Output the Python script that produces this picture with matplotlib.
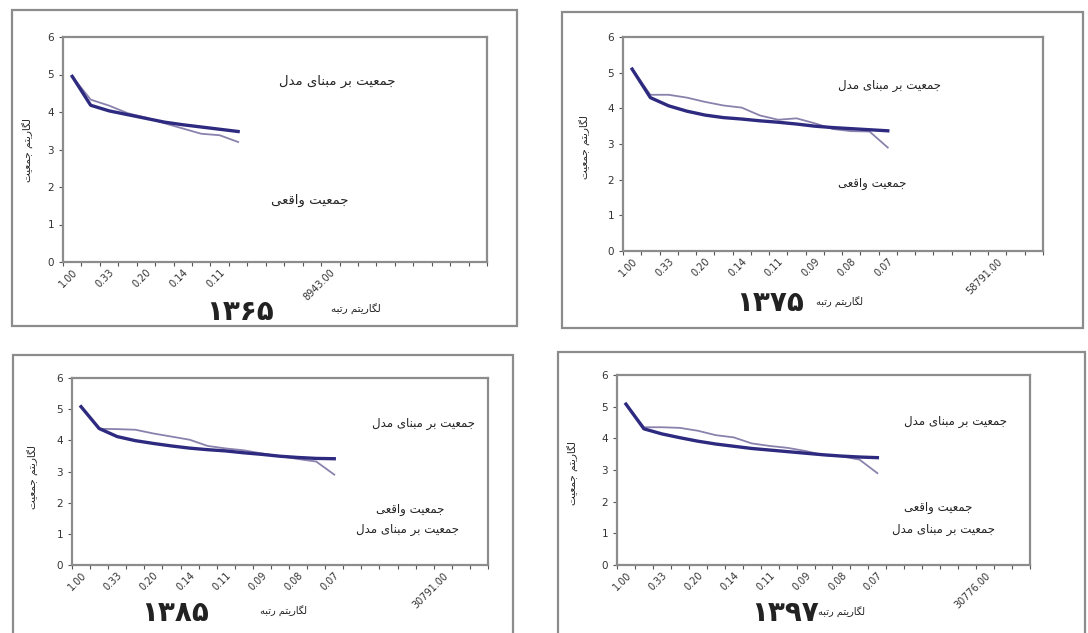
import matplotlib.pyplot as plt
from matplotlib.patches import Rectangle
import matplotlib.ticker as mticker

# ---- data (log population vs rank category) ----
years = ['۱۳۶۵', '۱۳۷۵', '۱۳۸۵', '۱۳۹۷']

model_1365 = [4.95, 4.18, 4.03, 3.93, 3.83, 3.73, 3.66, 3.60, 3.54, 3.48]
actual_1365 = [4.95, 4.33, 4.17, 3.97, 3.85, 3.70, 3.56, 3.42, 3.38, 3.20]

model_1375 = [5.10, 4.30, 4.07, 3.92, 3.81, 3.74, 3.70, 3.65, 3.61, 3.56, 3.50, 3.46, 3.43, 3.40, 3.37]
actual_1375 = [5.10, 4.38, 4.38, 4.30, 4.18, 4.08, 4.02, 3.80, 3.68, 3.72, 3.58, 3.42, 3.36, 3.35, 2.90]

model_1385 = [5.08, 4.38, 4.12, 3.99, 3.90, 3.82, 3.75, 3.70, 3.66, 3.60, 3.55, 3.49, 3.45, 3.42, 3.41]
actual_1385 = [5.08, 4.37, 4.36, 4.34, 4.22, 4.12, 4.02, 3.82, 3.74, 3.68, 3.58, 3.49, 3.40, 3.32, 2.90]

model_1397 = [5.08, 4.30, 4.14, 4.02, 3.91, 3.82, 3.75, 3.68, 3.63, 3.58, 3.53, 3.48, 3.44, 3.41, 3.39]
actual_1397 = [5.08, 4.35, 4.35, 4.33, 4.24, 4.10, 4.03, 3.84, 3.76, 3.70, 3.60, 3.47, 3.43, 3.33, 2.90]

n_cats = 23
labels_1365 = {0: '1.00', 2: '0.33', 4: '0.20', 6: '0.14', 8: '0.11', 14: '8943.00'}
labels_long = {0: '1.00', 2: '0.33', 4: '0.20', 6: '0.14', 8: '0.11',
               10: '0.09', 12: '0.08', 14: '0.07'}
far_labels = ['58791.00', '30791.00', '30776.00']

txt_model = 'جمعیت بر مبنای مدل'
txt_actual = 'جمعیت واقعی'
txt_ylabel = 'لگاریتم جمعیت'
txt_xlabel = 'لگاریتم رتبه'

# ---- minimal Persian shaping (matplotlib has no text shaping) ----
FORMS = {  # isolated, final, initial, medial
    'ا': ('\uFE8D', '\uFE8E', None, None),
    'ب': ('\uFE8F', '\uFE90', '\uFE91', '\uFE92'),
    'ت': ('\uFE95', '\uFE96', '\uFE97', '\uFE98'),
    'ج': ('\uFE9D', '\uFE9E', '\uFE9F', '\uFEA0'),
    'د': ('\uFEA9', '\uFEAA', None, None),
    'ر': ('\uFEAD', '\uFEAE', None, None),
    'ع': ('\uFEC9', '\uFECA', '\uFECB', '\uFECC'),
    'ق': ('\uFED5', '\uFED6', '\uFED7', '\uFED8'),
    'ل': ('\uFEDD', '\uFEDE', '\uFEDF', '\uFEE0'),
    'م': ('\uFEE1', '\uFEE2', '\uFEE3', '\uFEE4'),
    'ن': ('\uFEE5', '\uFEE6', '\uFEE7', '\uFEE8'),
    'ه': ('\uFEE9', '\uFEEA', '\uFEEB', '\uFEEC'),
    'و': ('\uFEED', '\uFEEE', None, None),
    'ی': ('\uFBFC', '\uFBFD', '\uFBFE', '\uFBFF'),
    'گ': ('\uFB92', '\uFB93', '\uFB94', '\uFB95'),
}


def shape(s):
    out = []
    for i, ch in enumerate(s):
        if ch not in FORMS:
            out.append(ch)
            continue
        prev = s[i - 1] if i > 0 else ''
        nxt = s[i + 1] if i + 1 < len(s) else ''
        join_prev = prev in FORMS and FORMS[prev][2] is not None
        join_next = nxt in FORMS and FORMS[ch][2] is not None
        iso, fin, ini, med = FORMS[ch]
        if join_prev and join_next:
            out.append(med)
        elif join_prev:
            out.append(fin)
        elif join_next:
            out.append(ini)
        else:
            out.append(iso)
    return ''.join(out)[::-1]


plt.rcParams['font.family'] = ['DejaVu Sans']

W, H = 1088, 633
fig = plt.figure(figsize=(W / 100, H / 100), dpi=100)


def fx(x):
    return x / W


def fy(y):
    return 1 - y / H


def frame(x0, y0, x1, y1):
    fig.add_artist(Rectangle((fx(x0), fy(y1)), fx(x1 - x0), (y1 - y0) / H,
                             transform=fig.transFigure, fill=False,
                             edgecolor='#8c8c8c', linewidth=1.6))


def panel(box, model, actual, labels, far_pos, far_label):
    x0, y0, x1, y1 = box
    ax = fig.add_axes([fx(x0), fy(y1), fx(x1 - x0), (y1 - y0) / H])
    xs = [k + 0.5 for k in range(len(model))]
    ax.plot(xs, actual, color='#8a82ad', linewidth=1.3)
    ax.plot(xs, model, color='#2d2a80', linewidth=2.4)
    ax.set_xlim(0, n_cats)
    ax.set_ylim(0, 6)
    ax.yaxis.set_major_locator(mticker.MultipleLocator(1))
    ax.set_xticks(range(n_cats + 1))
    ax.set_xticklabels([])
    lab = dict(labels)
    if far_label:
        lab[far_pos] = far_label
    pos = sorted(lab)
    ax.set_xticks([p + 0.5 for p in pos], minor=True)
    ax.set_xticklabels([lab[p] for p in pos], minor=True, rotation=45,
                       ha='right', va='top', rotation_mode='anchor',
                       fontsize=7, color='#333333')
    ax.tick_params(axis='x', which='major', length=3, color='#555555')
    ax.tick_params(axis='x', which='minor', length=0, pad=4)
    ax.tick_params(axis='y', length=3, labelsize=7.5, color='#555555',
                   labelcolor='#333333')
    for sp in ax.spines.values():
        sp.set_color('#8c8c8c')
        sp.set_linewidth(1.6)
    return ax


def txt(x, y, s, size=8.5, **kw):
    fig.text(fx(x), fy(y), s, ha='center', va='center', fontsize=size,
             color='#222222', **kw)


# panel 1 (1365)
frame(12, 10, 517, 326)
panel((63, 37, 487, 262), model_1365, actual_1365, labels_1365, 14, None)
txt(337, 81, shape(txt_model), size=9.5)
txt(310, 200, shape(txt_actual), size=9.5)
txt(356, 309, shape(txt_xlabel), size=7.5)
txt(28, 150, shape(txt_ylabel), size=7.5, rotation=90)
txt(240, 312, years[0], size=20, fontweight='bold')

# panel 2 (1375)
frame(562, 12, 1083, 328)
panel((623, 37, 1043, 251), model_1375, actual_1375, labels_long, 20, far_labels[0])
txt(890, 85, shape(txt_model))
txt(872, 183, shape(txt_actual))
txt(840, 302, shape(txt_xlabel), size=7)
txt(585, 147, shape(txt_ylabel), size=7.5, rotation=90)
txt(770, 303, years[1], size=20, fontweight='bold')

# panel 3 (1385)
frame(13, 355, 513, 640)
panel((72, 378, 488, 565), model_1385, actual_1385, labels_long, 20, far_labels[1])
txt(423, 424, shape(txt_model))
txt(410, 510, shape(txt_actual))
txt(408, 529, shape(txt_model))
txt(284, 611, shape(txt_xlabel), size=7)
txt(33, 477, shape(txt_ylabel), size=7.5, rotation=90)
txt(175, 613, years[2], size=20, fontweight='bold')

# panel 4 (1397)
frame(558, 352, 1085, 640)
panel((617, 375, 1030, 565), model_1397, actual_1397, labels_long, 20, far_labels[2])
txt(955, 422, shape(txt_model))
txt(938, 508, shape(txt_actual))
txt(943, 529, shape(txt_model))
txt(842, 612, shape(txt_xlabel), size=7)
txt(573, 473, shape(txt_ylabel), size=7.5, rotation=90)
txt(785, 613, years[3], size=20, fontweight='bold')

fig.savefig('out.png', dpi=100)
